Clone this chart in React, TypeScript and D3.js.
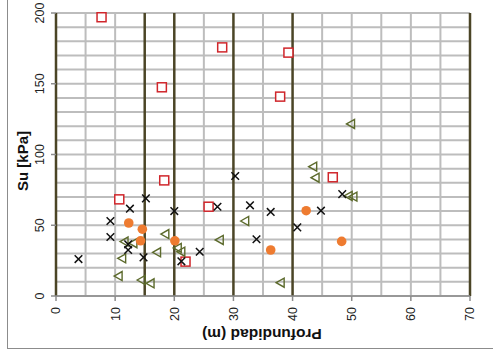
import * as d3 from 'd3';

// Profundidad (m) vs Su (kPa), one array per series
const squares: [number, number][] = [
  [7.7, 197], [28.1, 175.7], [39.3, 172], [17.9, 147.5], [37.9, 140.9],
  [10.7, 68.3], [18.3, 81.7], [21.9, 24.3], [25.8, 63.1], [46.8, 83.9],
];
const crosses: [number, number][] = [
  [3.8, 26.1], [9.2, 53], [9.2, 41.7], [12.5, 61.7], [12.2, 36.5], [12.2, 32.5],
  [15.2, 69], [14.8, 27.3], [20, 60], [21.2, 24.5], [24.3, 31.3], [27.3, 63.1],
  [30.3, 84.8], [32.8, 64.1], [36.3, 59.4], [33.9, 40.1], [40.8, 48.5],
  [44.8, 60.3], [48.4, 72],
];
const dots: [number, number][] = [
  [12.3, 51.6], [14.6, 47.2], [14.3, 39], [20.1, 39], [36.3, 32.5], [42.3, 60.3], [48.3, 38.6],
];
const triangles: [number, number][] = [
  [49.8, 121.6], [43.4, 91.4], [43.8, 83.6], [49.4, 70.7], [50.2, 70.2], [31.9, 53],
  [27.6, 39.6], [37.9, 9.4], [18.4, 43.8], [11.5, 38.5], [13, 37.3], [11.1, 26.6],
  [17, 30.9], [10.5, 14.1], [14.4, 11.3], [15.9, 9], [20.5, 34], [21.1, 31.3],
];
const boundaries = [0, 15, 20, 30, 40, 70];
const xTicks = [0, 10, 20, 30, 40, 50, 60, 70];
const yTicks = [0, 50, 100, 150, 200];

const W = 493, H = 350;
const left = 56, right = 470, top = 13, bottom = 296;

export default function App() {
  const x = d3.scaleLinear().domain([0, 70]).range([left, right]);
  const y = d3.scaleLinear().domain([0, 200]).range([bottom, top]);
  const xGrid = d3.range(0, 71, 5).filter(v => !boundaries.includes(v));
  const yGrid = d3.range(0, 201, 10);
  const tri = 'M-4,0L4,-4.5L4,4.5Z';

  return (
    <svg width={W} height={H} style={{ position: 'fixed', left: 0, top: 0, display: 'block' }}
      fontFamily="'Liberation Sans', Arial, sans-serif">
      <rect x={0} y={0} width={W} height={H} fill="#fff" />
      <rect x={7.5} y={-10} width={W + 20} height={349 + 10 - 0.5} fill="none" stroke="#8c8c8c" strokeWidth={1} />

      {yGrid.map(v => (
        <line key={'h' + v} x1={left} x2={right} y1={y(v)} y2={y(v)} stroke="#bdbdbd" strokeWidth={2} />
      ))}
      {xGrid.map(v => (
        <line key={'v' + v} x1={x(v)} x2={x(v)} y1={top} y2={bottom} stroke="#bdbdbd" strokeWidth={2} />
      ))}
      {boundaries.map(v => (
        <line key={'b' + v} x1={x(v)} x2={x(v)} y1={top} y2={bottom} stroke="#4b4526" strokeWidth={2.5} />
      ))}
      <line x1={left} x2={right} y1={bottom} y2={bottom} stroke="#8c8c8c" strokeWidth={1.5} />

      {yTicks.map(v => (
        <g key={'yt' + v}>
          <line x1={left - 5} x2={left} y1={y(v)} y2={y(v)} stroke="#8c8c8c" strokeWidth={1.5} />
          <text transform={`translate(${left - 12},${y(v)}) rotate(-90)`} textAnchor="middle" fontSize={12.5} fill="#222">{v}</text>
        </g>
      ))}
      {xTicks.map(v => (
        <g key={'xt' + v}>
          <line x1={x(v)} x2={x(v)} y1={bottom} y2={bottom + 5} stroke="#8c8c8c" strokeWidth={1.5} />
          <text transform={`translate(${x(v)},${bottom + 11}) rotate(-90)`} dy="0.35em" textAnchor="end" fontSize={12.5} fill="#222">{v}</text>
        </g>
      ))}

      <text transform={`translate(28,161) rotate(-90)`} textAnchor="middle" fontSize={15} fontWeight="bold" fill="#111">Su [kPa]</text>
      <text transform={`translate(262,329) rotate(180)`} textAnchor="middle" fontSize={15.5} fontWeight="bold" fill="#111">Profundidad (m)</text>

      {squares.map((d, i) => (
        <rect key={'s' + i} x={x(d[0]) - 4.5} y={y(d[1]) - 4.5} width={9} height={9} fill="#fff" stroke="#d0262b" strokeWidth={1.5} />
      ))}
      {triangles.map((d, i) => (
        <path key={'t' + i} d={tri} transform={`translate(${x(d[0])},${y(d[1])})`} fill="none" stroke="#5c6a2c" strokeWidth={1.4} />
      ))}
      {crosses.map((d, i) => (
        <path key={'c' + i} d="M-3.8,-3.8L3.8,3.8M-3.8,3.8L3.8,-3.8" transform={`translate(${x(d[0])},${y(d[1])})`} stroke="#111" strokeWidth={1.5} />
      ))}
      {dots.map((d, i) => (
        <circle key={'d' + i} cx={x(d[0])} cy={y(d[1])} r={4.8} fill="#ee7b30" />
      ))}
    </svg>
  );
}
